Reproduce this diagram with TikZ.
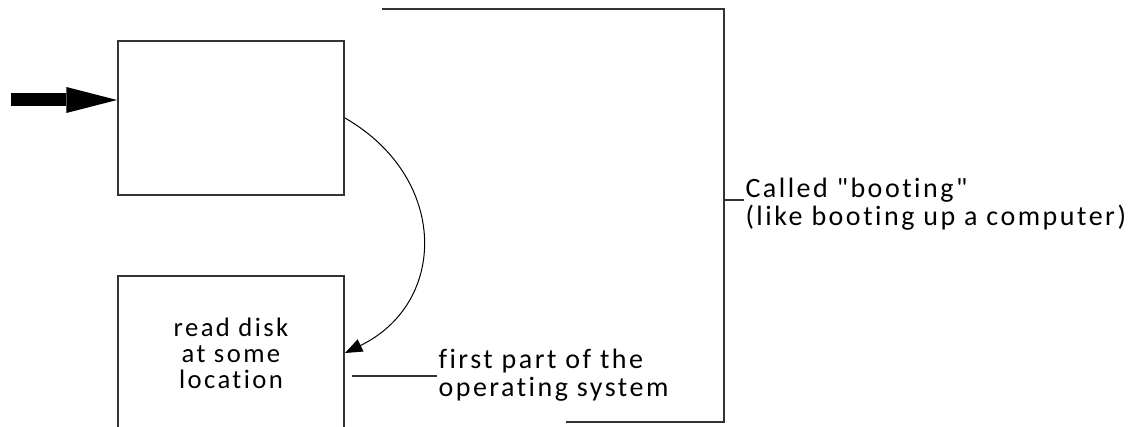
\documentclass[tikz,border=0pt]{standalone}
\usepackage{fontspec}
\setmainfont{Carlito}[LetterSpace=9, Ligatures={TeXOff,CommonOff}]
\usetikzlibrary{arrows.meta}

\tikzset{every picture/.style={line width=0.75pt}}
\tikzset{
  stagebox/.style={draw=black!80, line width=1.5pt, minimum width=169.5pt, minimum height=115.5pt, inner sep=0pt, align=center, font=\fontsize{20pt}{19.5pt}\selectfont},
  note/.style={anchor=west, inner sep=0.75pt, align=left, font=\fontsize{21pt}{21pt}\selectfont},
  leader/.style={draw=black!80, line width=1.5pt}
}

\begin{document}
\begin{tikzpicture}[x=0.75pt,y=0.75pt,yscale=-1,xscale=1]
\clip (0,0) rectangle (1132,427);

% Boxes
\node [stagebox] (start) at (231,118) {};
\node [stagebox] (readdisk) at (231,353) {read disk\\at some\\location};

% Big input arrow
\coordinate (in) at (11,100);
\draw [line width=9.75pt, -{Triangle[length=38pt,width=19.5pt,line width=0pt]}] (in) -- (in -| start.west);

% Curved jump
\draw [-{Triangle[length=13pt,width=10pt]}] (start.east) .. controls +(104,60) and +(103,-50) .. (readdisk.east);

% Bracket
\coordinate (brtop) at (382,9);
\coordinate (brright) at (724,9);
\coordinate (brdown) at (724,422);
\coordinate (brend) at (566,422);
\draw [leader] (brtop) -- (brright) -- (brdown) -- (brend);

% Text Nodes
\node [note] (osnote) at (437,375) {first part of the\\operating system};
\node [note] (bootnote) at (744,204) {Called "booting"\\(like booting up a computer)};

% Leaders
\coordinate (oslead) at (352,376);
\draw [leader] (oslead) -- (oslead -| osnote.west);
\coordinate (bootlead) at (724,200);
\draw [leader] (bootlead) -- (bootlead -| bootnote.west);

\end{tikzpicture}
\end{document}
